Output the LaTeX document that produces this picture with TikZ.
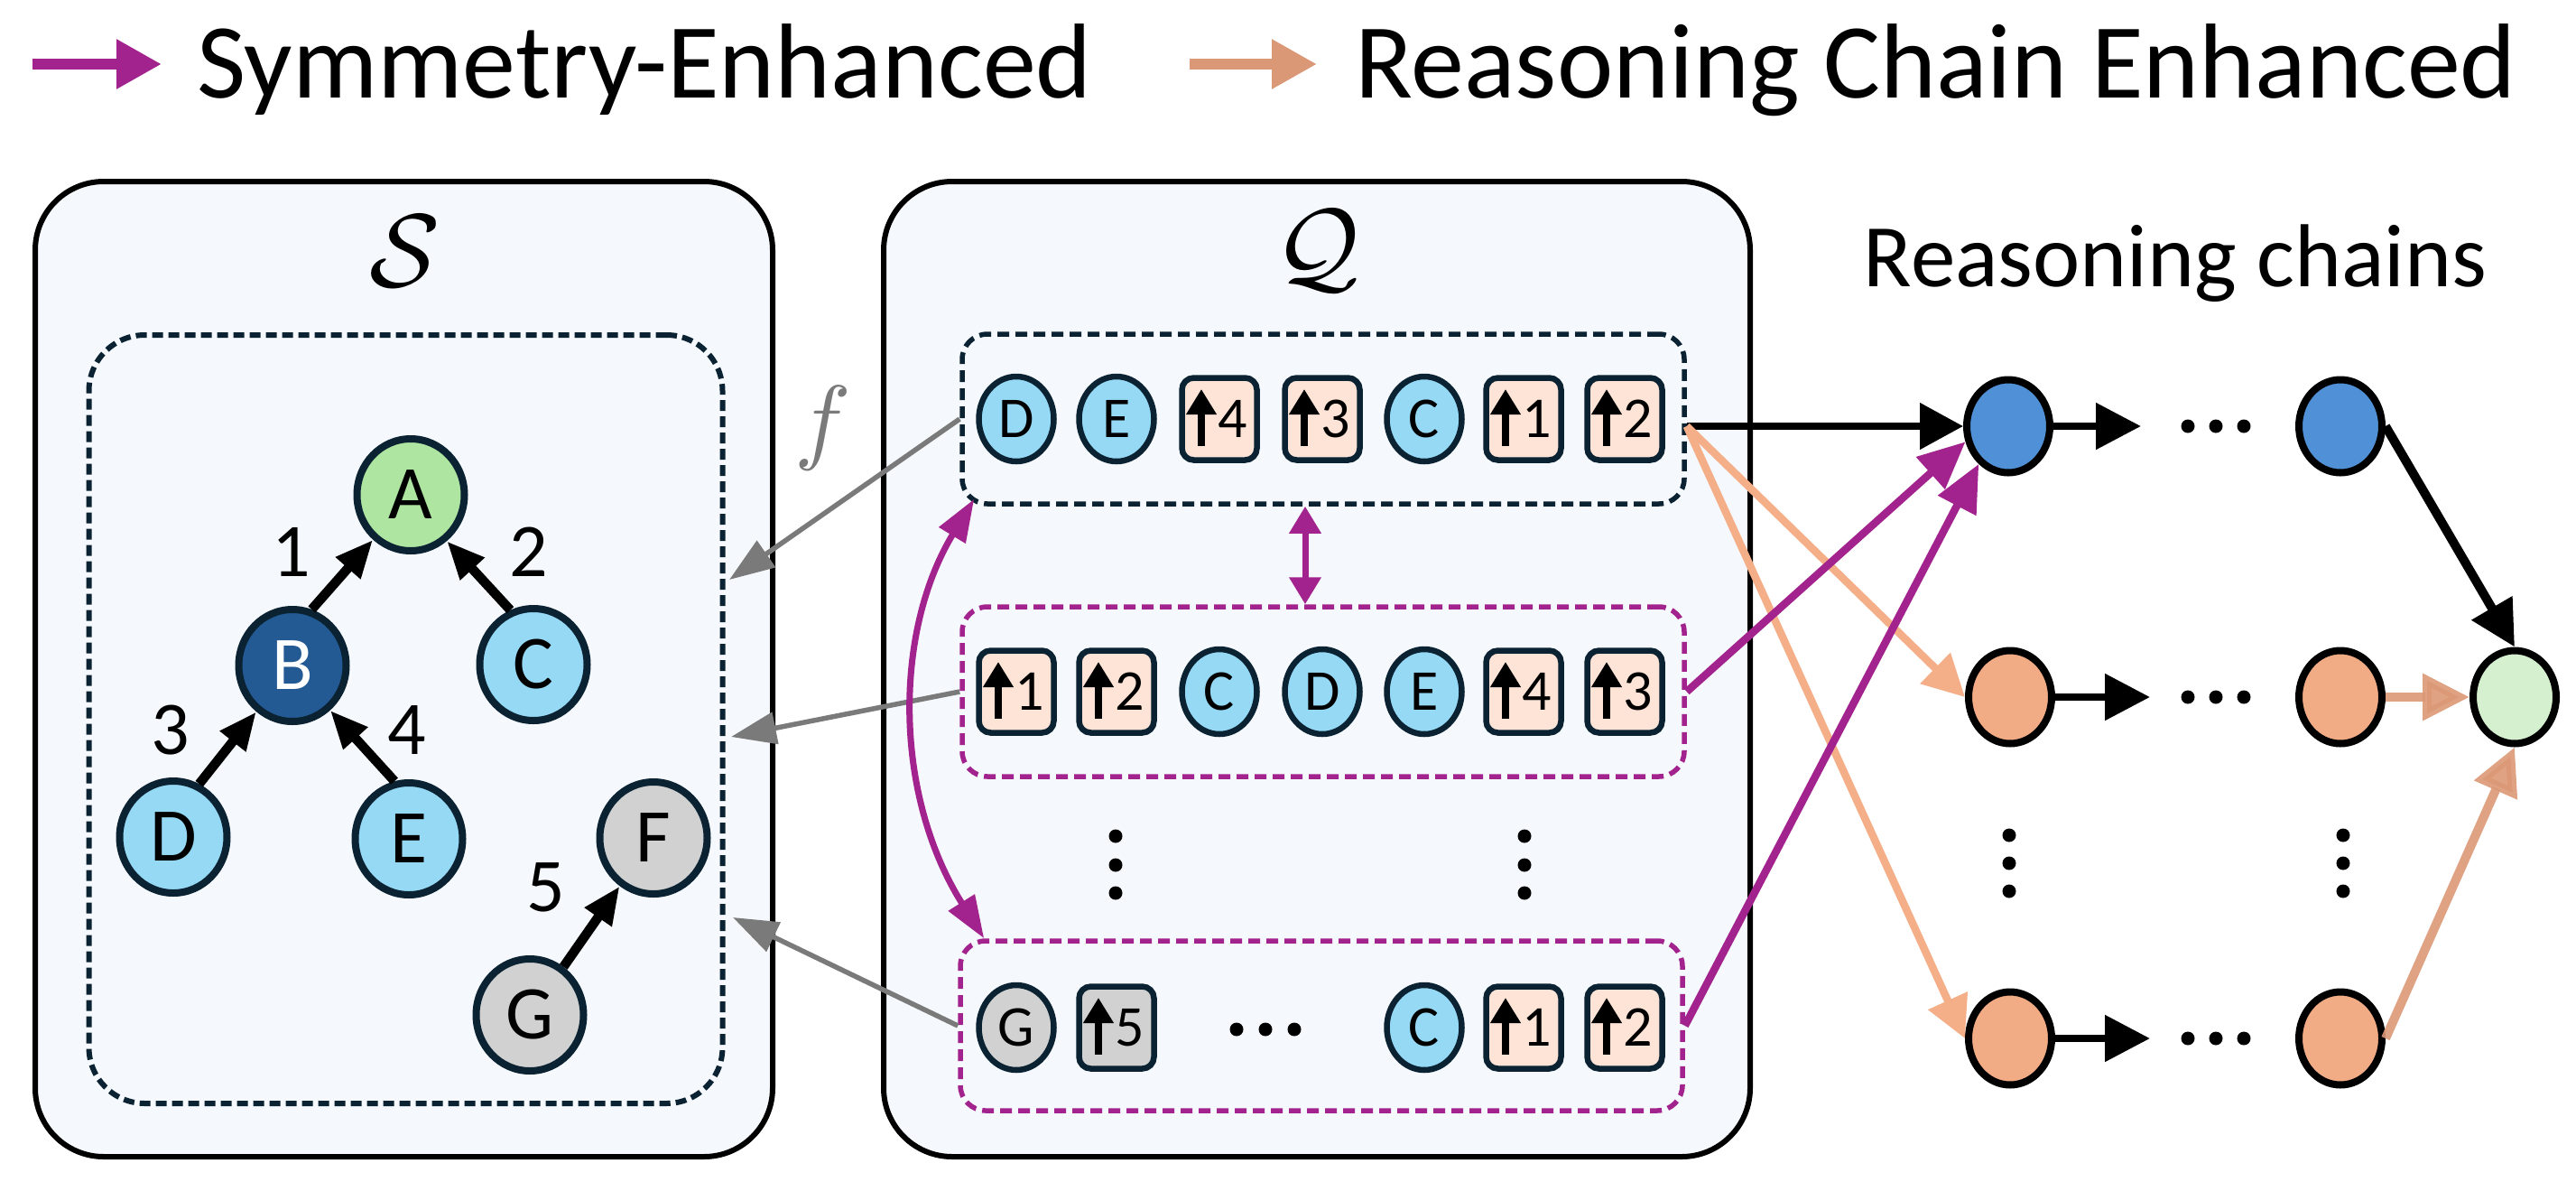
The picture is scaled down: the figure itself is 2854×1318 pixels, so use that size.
\documentclass[tikz,border=0pt]{standalone}
\usepackage{fontspec}
\setmainfont{Carlito}
\usepackage{graphicx}
\usetikzlibrary{arrows.meta,calc,shapes.geometric}
\definecolor{boxfill}{HTML}{F5F9FD}
\definecolor{navy}{HTML}{0A2232}
\definecolor{lblue}{HTML}{95D9F5}
\definecolor{agreen}{HTML}{AEE5A1}
\definecolor{bblue}{HTML}{245A94}
\definecolor{ngray}{HTML}{D1D1D1}
\definecolor{peach}{HTML}{FDE4D6}
\definecolor{cblue}{HTML}{4F90D6}
\definecolor{corange}{HTML}{F2AC85}
\definecolor{cgreen}{HTML}{D5F0CF}
\definecolor{magenta1}{HTML}{A3238E}
\definecolor{lorange}{HTML}{F4AE88}
\definecolor{borange}{HTML}{DB9876}
\definecolor{arrgray}{HTML}{7A7A7A}
\tikzset{
  bigbox/.style={rectangle, draw=black, line width=6pt, fill=boxfill, rounded corners=76pt, inner sep=0pt},
  sdash/.style={rectangle, draw=navy, line width=6pt, dash pattern=on 12pt off 6pt, rounded corners=62pt, inner sep=0pt},
  rdash/.style={rectangle, draw=#1, line width=5.5pt, dash pattern=on 13pt off 7pt, rounded corners=28pt, inner sep=0pt, minimum width=800pt, minimum height=188pt},
  snode/.style={ellipse, draw=navy, line width=8pt, minimum width=119pt, minimum height=124pt, inner sep=0pt, font=\fontsize{84}{84}\selectfont},
  qell/.style={ellipse, draw=navy, line width=6.5pt, minimum width=83pt, minimum height=94pt, inner sep=0pt, font=\fontsize{64}{64}\selectfont},
  qsq/.style={rectangle, draw=navy, line width=6.5pt, minimum width=83pt, minimum height=91pt, rounded corners=13pt, inner sep=0pt},
  qtxt/.style={inner sep=0pt, font=\fontsize{64}{64}\selectfont},
  lab/.style={inner sep=0pt, font=\fontsize{84}{84}\selectfont},
  legtxt/.style={inner sep=0pt, font=\fontsize{118}{120}\selectfont},
  uparr/.style={line width=7.5pt, -{Triangle[length=28pt,width=32pt]}},
  sedge/.style={line width=10.5pt, -{Triangle[length=42pt,width=34pt]}},
  grayarr/.style={draw=arrgray, line width=5.5pt, -{Triangle[length=50pt,width=35pt]}},
  magarr/.style={draw=magenta1, line width=8.5pt, -{Triangle[length=52pt,width=46pt]}},
  magdbl/.style={draw=magenta1, line width=7pt, {Triangle[length=30pt,width=34pt]}-{Triangle[length=30pt,width=34pt]}},
  magcurve/.style={draw=magenta1, line width=7pt, {Triangle[length=47pt,width=33pt]}-{Triangle[length=47pt,width=33pt]}},
  lorarr/.style={draw=lorange, line width=8.5pt, -{Triangle[length=46pt,width=46pt]}},
  blkarr/.style={draw=black, line width=8pt, -{Triangle[length=48pt,width=50pt]}},
  chainarr/.style={draw=black, line width=8.5pt, -{Triangle[length=50pt,width=50pt]}},
  finblk/.style={draw=black, line width=10pt, -{Triangle[length=50pt,width=50pt]}},
  finbr/.style={draw=borange, opacity=0.9, line width=10pt, -{Triangle[length=52pt,width=50pt]}},
  legarr/.style={line width=12pt, -{Triangle[length=50pt,width=52pt]}},
  cnode/.style={ellipse, draw=black, line width=8pt, minimum width=92pt, minimum height=103pt, inner sep=0pt},
}
\newcommand\TokE[4]{\node[qell,fill=#4] (#1) at (#2) {#3};}
\newcommand\TokS[4]{%
  \node[qsq,fill=#4] (#1) at (#2) {};
  \draw[uparr] ($(#1)+(-20,30)$) -- ($(#1)+(-20,-33)$);
  \node[qtxt] (#1n) at ($(#1)+(15,0)$) {#3};}
\newcommand\Dot[1]{\fill (#1) circle[radius=7.5pt];}
\begin{document}
\begin{tikzpicture}[x=1pt,y=-1pt]
\useasboundingbox (0,0) rectangle (2854,1318);
% legend
\coordinate (lg1s) at (36,71);
\coordinate (lg1e) at (179,71);
\coordinate (lg2s) at (1318,71);
\coordinate (lg2e) at (1459,71);
\draw[legarr, magenta1] (lg1s) -- (lg1e);
\draw[legarr, borange] (lg2s) -- (lg2e);
\node[legtxt, anchor=base] (leg1) at (714,108) {Symmetry-Enhanced};
\node[legtxt, anchor=base] (leg2) at (2145,108) {Reasoning Chain Enhanced};
% big boxes
\node[bigbox, minimum width=817pt, minimum height=1080pt] (sbox) at (447.5,741) {};
\node[bigbox, minimum width=960pt, minimum height=1080pt] (qbox) at (1459,741) {};
\node (slabel) at (449,278) {\scalebox{11.5}{$\mathcal{S}$}};
\node (qlabel) at (1459,278) {\scalebox{11.5}{$\mathcal{Q}$}};
\node[font=\fontsize{99}{99}\selectfont, anchor=base, inner sep=0pt] (rc) at (2410,317) {Reasoning chains};
% S graph
\node[sdash, minimum width=702pt, minimum height=851pt] (sgraph) at (449.5,796.5) {};
\node[snode, fill=agreen] (A) at (455,548) {A};
\node[snode, fill=bblue, text=white] (B) at (324,737) {B};
\node[snode, fill=lblue] (C) at (591,736) {C};
\node[snode, fill=lblue] (D) at (192,927) {D};
\node[snode, fill=lblue] (E) at (453,929) {E};
\node[snode, fill=ngray] (F) at (724,928) {F};
\node[snode, fill=ngray] (G) at (587,1124) {G};
\draw[sedge] (B.71) -- (A.230);
\draw[sedge] (C.113) -- (A.308);
\draw[sedge] (D.64) -- (B.232);
\draw[sedge] (E.104) -- (B.310);
\draw[sedge] (G.55) -- (F.235);
\node[lab] (l1) at (323,611) {1};
\node[lab] (l2) at (586,611) {2};
\node[lab] (l3) at (189,809) {3};
\node[lab] (l4) at (451,809) {4};
\node[lab] (l5) at (605,983) {5};
% Q rows
\node[rdash=navy] (r1) at (1466,464) {};
\node[rdash=magenta1] (r2) at (1466,766) {};
\node[rdash=magenta1] (r3) at (1464,1136) {};
\TokE{a1}{1126,464}{D}{lblue}
\TokE{a2}{1237,464}{E}{lblue}
\TokS{a3}{1351,464}{4}{peach}
\TokS{a4}{1465,464}{3}{peach}
\TokE{a5}{1578,464}{C}{lblue}
\TokS{a6}{1688,464}{1}{peach}
\TokS{a7}{1800,464}{2}{peach}
\TokS{b1t}{1126,766}{1}{peach}
\TokS{b2t}{1237,766}{2}{peach}
\TokE{b3t}{1351,766}{C}{lblue}
\TokE{b4t}{1465,766}{D}{lblue}
\TokE{b5t}{1578,766}{E}{lblue}
\TokS{b6t}{1688,766}{4}{peach}
\TokS{b7t}{1800,766}{3}{peach}
\TokE{c1t}{1126,1138}{G}{ngray}
\TokS{c2t}{1237,1138}{5}{ngray}
\TokE{c5t}{1578,1138}{C}{lblue}
\TokS{c6t}{1688,1138}{1}{peach}
\TokS{c7t}{1800,1138}{2}{peach}
\Dot{1370,1140}\Dot{1402,1140}\Dot{1434,1140}
\Dot{1236,926}\Dot{1236,958}\Dot{1236,989}
\Dot{1689,926}\Dot{1689,958}\Dot{1689,989}
% f arrows
\node[text=arrgray] (flabel) at (912,474) {\scalebox{10.5}{$f$}};
\coordinate (t1) at (808,642);
\coordinate (t2) at (810,816);
\coordinate (t3) at (812,1016);
\draw[grayarr] (r1.west) -- (t1);
\draw[grayarr] (r2.west) -- (t2);
\draw[grayarr] (r3.west) -- (t3);
% symmetry arrows inside Q
\coordinate (d1) at ($(r1.south)+(-20,0)$);
\coordinate (d2) at ($(r2.north)+(-20,0)$);
\draw[magdbl] (d1) -- (d2);
\coordinate (c1) at ($(r1.south west)+(16,-8)$);
\coordinate (c3) at ($(r3.north west)+(29,0)$);
\draw[magcurve] (c1) .. controls (990,700) and (990,880) .. (c3);
% reasoning chain nodes
\node[cnode, fill=cblue] (n1) at (2225,472) {};
\node[cnode, fill=cblue] (n2) at (2593,472) {};
\node[cnode, fill=corange] (o1) at (2227,772) {};
\node[cnode, fill=corange] (o2) at (2593,772) {};
\node[cnode, fill=corange] (o3) at (2227,1150) {};
\node[cnode, fill=corange] (o4) at (2593,1150) {};
\node[cnode, fill=cgreen] (gz) at (2786,772) {};
% arrows from Q rows to chains
\coordinate (r1out) at (r1.east |- n1.west);
\draw[blkarr] (r1out) -- (n1.west);
\draw[lorarr] (r1out) -- (o1.west);
\draw[lorarr] (r1out) -- (o3.west);
\draw[magarr] (r2.east) -- (n1.200);
\draw[magarr] (r3.east) -- (n1.232);
% chain arrows
\coordinate (n1x) at (2372,472);
\coordinate (o1x) at (2382,772);
\coordinate (o3x) at (2382,1150);
\draw[chainarr] (n1.east) -- (n1x);
\draw[chainarr] (o1.east) -- (o1x);
\draw[chainarr] (o3.east) -- (o3x);
\foreach \yy in {472,772,1150}{\Dot{2424,\yy}\Dot{2455,\yy}\Dot{2486,\yy}}
\Dot{2226,925}\Dot{2226,956}\Dot{2226,987}
\Dot{2596,925}\Dot{2596,956}\Dot{2596,987}
\draw[finblk] (n2.east) -- (gz.north);
\draw[finbr] (o2.east) -- (gz.west);
\draw[finbr] (o4.east) -- (gz.south);
\end{tikzpicture}
\end{document}
